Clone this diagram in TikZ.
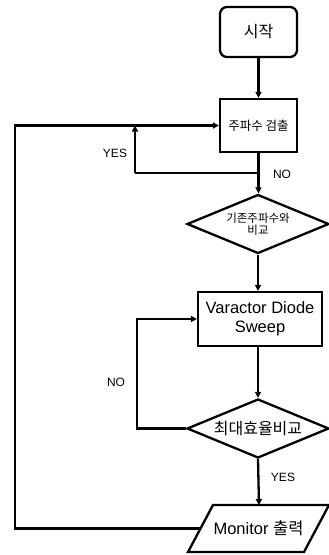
\documentclass[tikz,border=0pt]{standalone}
\usepackage{fontspec}
\setmainfont{Liberation Sans}
\newfontfamily\kr{Noto Sans CJK KR}
\usetikzlibrary{shapes.geometric,arrows.meta}
\begin{document}
\begin{tikzpicture}[x=1pt,y=-1pt,
  line width=2.3pt,
  box/.style={draw, rectangle, inner sep=0pt, align=center},
  dec/.style={draw, diamond, aspect=2.4, inner sep=0pt, minimum width=142pt, minimum height=59pt, align=center},
  arr/.style={-{Triangle[length=6pt,width=6pt]}},
  lbl/.style={font=\fontsize{12}{13}\selectfont}]
\useasboundingbox (0,0) rectangle (329,555);
\node[box, rounded corners=7pt, minimum width=77pt, minimum height=50pt,
      font=\kr\fontsize{16}{18}\selectfont] (start) at (258.5,32) {시작};
\node[box, minimum width=77pt, minimum height=53pt,
      font=\kr\fontsize{12.5}{14}\selectfont] (det) at (258.5,125.5) {주파수 검출};
\node[dec, font=\kr\fontsize{11.5}{13}\selectfont] (cmp) at (258,224) {기존주파수와\\[-1pt]비교};
\node[box, minimum width=124pt, minimum height=54pt,
      font=\fontsize{16.5}{19}\selectfont] (var) at (260,319) {Varactor Diode\\Sweep};
\node[dec, font=\kr\fontsize{16}{18}\selectfont] (eff) at (258,428.5) {최대효율비교};
\node[font=\fontsize{16.5}{18}\selectfont, inner sep=0pt] (mon) at (258.5,528.5) {Monitor {\kr 출력}};
% parallelogram outline of the output node
\coordinate (monBL) at (188,552);
\coordinate (monBR) at (304,552);
\coordinate (monTR) at (329,505);
\coordinate (monTL) at (213,505);
\coordinate (monT) at (259,505);
\coordinate (monL) at (200.5,528.5);
\draw[line join=miter] (monBL) -- (monBR) -- (monTR) -- (monTL) -- cycle;

% labels
\node[lbl] (yes1) at (115,153) {YES};
\node[lbl] (no1) at (282,174) {NO};
\node[lbl] (no2) at (116,382) {NO};
\node[lbl] (yes2) at (283,477) {YES};

% helper points
\coordinate (br1) at (259,173);
\coordinate (yl) at (135,173);
\coordinate (nl) at (137,428.5);
\coordinate (outer) at (15,528.5);

% connectors
\draw[arr] (start.south) -- (det.north);
\draw[arr] (det.south) -- (det.south |- cmp.north);
\draw[line join=miter] (br1) -- (yl);
\draw[arr] (yl) -- (yl |- det.west);
\draw[arr] (cmp.south) -- (cmp.south |- var.north);
\draw[arr] (cmp.south |- var.south) -- (eff.north);
\draw[arr, line join=miter] (eff.west) -- (nl) -- (nl |- var.west) -- (var.west);
\draw[arr] (eff.south) -- (monT);
\draw[arr, line join=miter] (monL) -- (outer) -- (outer |- det.west) -- (det.west);
\end{tikzpicture}
\end{document}
